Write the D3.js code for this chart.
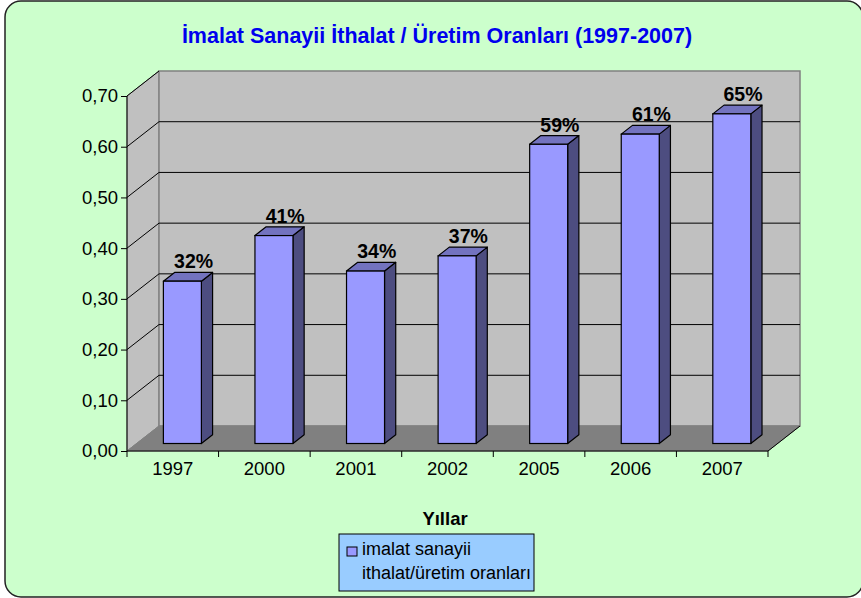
<!DOCTYPE html>
<html>
<head>
<meta charset="utf-8">
<script src="https://cdn.jsdelivr.net/npm/d3@7"></script>
<style>
  body { margin: 0; background: #fff; }
  svg text { font-family: Arial, "Liberation Sans", sans-serif; }
</style>
</head>
<body>
<div id="chart"></div>
<script>
    const width = 861;
    const height = 598;

    // data
    const years = ["1997", "2000", "2001", "2002", "2005", "2006", "2007"];
    const ratios = [0.32, 0.41, 0.34, 0.37, 0.59, 0.61, 0.65];
    const yTicks = [0, 0.1, 0.2, 0.3, 0.4, 0.5, 0.6, 0.7];
    const titleText = "İmalat Sanayii İthalat / Üretim Oranları (1997-2007)";
    const axisTitle = "Yıllar";
    const legendLines = ["imalat sanayii", "ithalat/üretim oranları"];

    // 3d depth offset of the plot box
    const depthX = 32, depthY = -25;
    const barFront = 0.3, barBack = 0.65; // bar position inside the depth

    const svg = d3.select("#chart").append("svg")
        .attr("width", width)
        .attr("height", height);

    // background panel
    svg.append("rect")
        .attr("x", 5).attr("y", 1)
        .attr("width", 858).attr("height", 596)
        .attr("rx", 16).attr("ry", 16)
        .attr("fill", "#CCFFCC")
        .attr("stroke", "#222").attr("stroke-width", 1.5);

    const x = d3.scaleBand().domain(years).range([127, 768]).paddingInner(0).paddingOuter(0);
    const y = d3.scaleLinear().domain([0, 0.7]).range([451, 96]);

    const x0 = 127, x1 = 768, yBot = y(0), yTop = y(0.7);

    // left wall
    svg.append("polygon")
        .attr("points", [[x0, yBot], [x0, yTop], [x0 + depthX, yTop + depthY], [x0 + depthX, yBot + depthY]].join(" "))
        .attr("fill", "#C0C0C0").attr("stroke", "#808080");

    // back wall
    svg.append("rect")
        .attr("x", x0 + depthX).attr("y", yTop + depthY)
        .attr("width", x1 - x0).attr("height", yBot - yTop)
        .attr("fill", "#C0C0C0").attr("stroke", "#808080").attr("stroke-width", 1.5);

    // floor
    svg.append("polygon")
        .attr("points", [[x0, yBot], [x1, yBot], [x1 + depthX, yBot + depthY], [x0 + depthX, yBot + depthY]].join(" "))
        .attr("fill", "#808080").attr("stroke", "#808080");
    svg.append("line")
        .attr("x1", x1).attr("y1", yBot).attr("x2", x1 + depthX).attr("y2", yBot + depthY)
        .attr("stroke", "#000");

    // gridlines on walls
    const grid = svg.append("g");
    yTicks.filter(t => t > 0 && t < 0.7).forEach(t => {
        grid.append("line")
            .attr("x1", x0).attr("y1", y(t))
            .attr("x2", x0 + depthX).attr("y2", y(t) + depthY)
            .attr("stroke", "#000");
        grid.append("line")
            .attr("x1", x0 + depthX).attr("y1", y(t) + depthY)
            .attr("x2", x1 + depthX).attr("y2", y(t) + depthY)
            .attr("stroke", "#000");
    });
    grid.append("line")
        .attr("x1", x0).attr("y1", yTop)
        .attr("x2", x0 + depthX).attr("y2", yTop + depthY)
        .attr("stroke", "#000");

    // bars
    const bw = 38;
    const bars = svg.append("g");
    years.forEach((yr, i) => {
        const v = ratios[i];
        const fx = x(yr) + x.bandwidth() / 2 - bw / 2 + barFront * depthX;
        const fyTop = y(v) + barFront * depthY;
        const fyBot = y(0) + barFront * depthY;
        const dx = (barBack - barFront) * depthX;
        const dy = (barBack - barFront) * depthY;

        // side
        bars.append("polygon")
            .attr("points", [[fx + bw, fyBot], [fx + bw, fyTop], [fx + bw + dx, fyTop + dy], [fx + bw + dx, fyBot + dy]].join(" "))
            .attr("fill", "#4D4D80").attr("stroke", "#000").attr("stroke-width", 1.2).attr("stroke-linejoin", "round");
        // top
        bars.append("polygon")
            .attr("points", [[fx, fyTop], [fx + bw, fyTop], [fx + bw + dx, fyTop + dy], [fx + dx, fyTop + dy]].join(" "))
            .attr("fill", "#7373BF").attr("stroke", "#000").attr("stroke-width", 1.2).attr("stroke-linejoin", "round");
        // front
        bars.append("rect")
            .attr("x", fx).attr("y", fyTop)
            .attr("width", bw).attr("height", fyBot - fyTop)
            .attr("fill", "#9999FF").attr("stroke", "#000").attr("stroke-width", 1.2);

        // value label
        bars.append("text")
            .attr("x", fx + dx + bw / 2)
            .attr("y", fyTop + dy - 4)
            .attr("text-anchor", "middle")
            .attr("font-size", 21).attr("font-weight", "bold")
            .attr("textLength", 39).attr("lengthAdjust", "spacingAndGlyphs")
            .text(Math.round(v * 100) + "%");
    });

    // y axis
    const yAxis = d3.axisLeft(y).tickValues(yTicks).tickSize(6).tickFormat(d => d3.format(".2f")(d).replace(".", ","));
    const ya = svg.append("g").attr("transform", `translate(${x0},0)`).call(yAxis);
    ya.select(".domain").attr("stroke", "#000").attr("d", `M0,${yTop}V${yBot}`);
    ya.selectAll(".tick line").attr("stroke", "#000");
    ya.selectAll(".tick text").attr("font-size", 18.5).attr("fill", "#000")
        .attr("font-family", "Arial, 'Liberation Sans', sans-serif").attr("x", -9);

    // x axis
    const xa = svg.append("g").attr("transform", `translate(0,${yBot})`)
        .call(d3.axisBottom(x).tickSize(0).tickPadding(11));
    xa.select(".domain").attr("stroke", "#000").attr("d", `M${x0},0H${x1}`);
    xa.selectAll(".tick text").attr("font-size", 18.5).attr("fill", "#000")
        .attr("font-family", "Arial, 'Liberation Sans', sans-serif");
    xa.selectAll(".sep").data(d3.range(years.length + 1)).enter().append("line")
        .attr("x1", i => x0 + i * x.step()).attr("x2", i => x0 + i * x.step())
        .attr("y1", 0).attr("y2", 6).attr("stroke", "#000");

    // title
    svg.append("text")
        .attr("x", 437).attr("y", 43)
        .attr("text-anchor", "middle")
        .attr("font-size", 21.5).attr("font-weight", "bold")
        .attr("fill", "#0000EE")
        .text(titleText);

    // axis title
    svg.append("text")
        .attr("x", 445).attr("y", 525)
        .attr("text-anchor", "middle")
        .attr("font-size", 18.5).attr("font-weight", "bold")
        .text(axisTitle);

    // legend
    const lg = svg.append("g");
    lg.append("rect")
        .attr("x", 339).attr("y", 534).attr("width", 195).attr("height", 57)
        .attr("fill", "#99CCFF").attr("stroke", "#000");
    lg.append("rect")
        .attr("x", 347).attr("y", 547).attr("width", 10).attr("height", 9)
        .attr("fill", "#9999FF").attr("stroke", "#000");
    lg.selectAll(".lt").data(legendLines).enter().append("text")
        .attr("x", 362).attr("y", (d, i) => 555 + i * 24)
        .attr("font-size", 18)
        .text(d => d);
</script>
</body>
</html>
